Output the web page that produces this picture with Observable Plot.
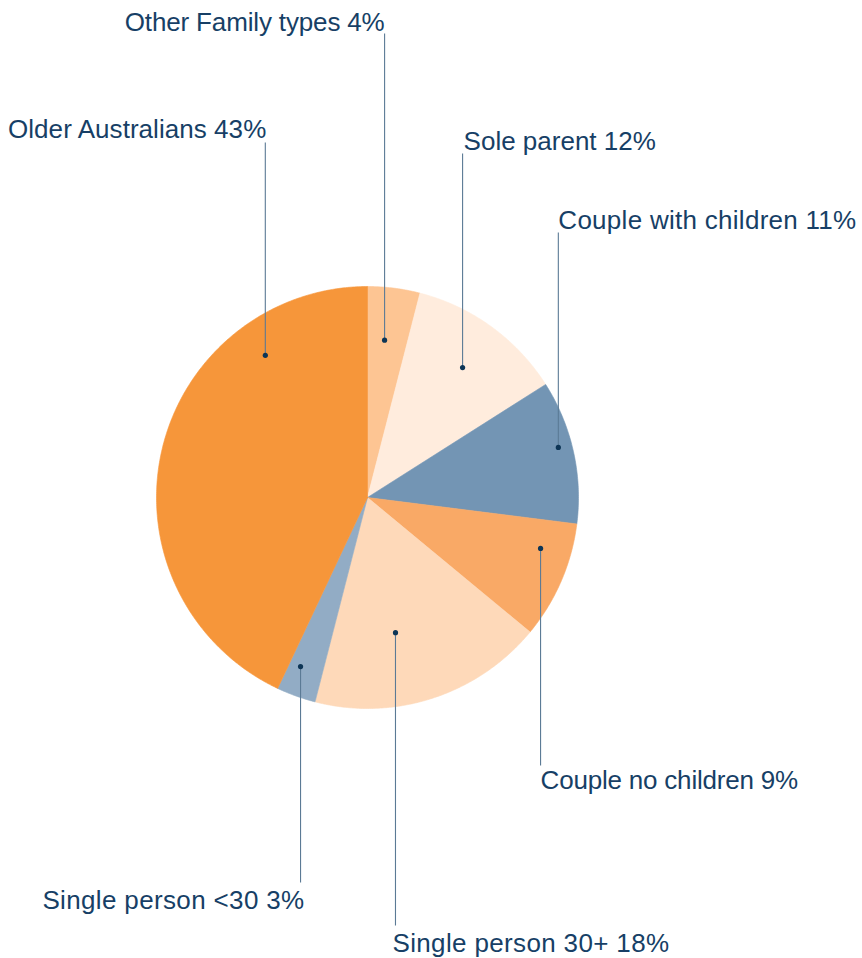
<!DOCTYPE html>
<html>
<head>
<meta charset="utf-8">
<script src="https://cdn.jsdelivr.net/npm/d3@7"></script>
<script src="https://cdn.jsdelivr.net/npm/@observablehq/plot@0.6"></script>
<style>
  html, body { margin: 0; padding: 0; background: #fff; }
  #chart { width: 862px; height: 958px; }
</style>
</head>
<body>
<div id="chart"></div>
<script>
// ---- data ----
const categories = ["Other Family types", "Sole parent", "Couple with children", "Couple no children", "Single person 30+", "Single person <30", "Older Australians"];
const shares = [4, 12, 11, 9, 18, 3, 43];
const labels = ["Other Family types 4%", "Sole parent 12%", "Couple with children 11%", "Couple no children 9%", "Single person 30+ 18%", "Single person <30 3%", "Older Australians 43%"];
const colors = ["#FDC593", "#FFECDD", "#7395B4", "#F9A966", "#FED9B9", "#92ACC5", "#F6963A"];

// ---- layout (not data) ----
const W = 862, H = 958, CX = 367, CY = 497, R = 211;
const anchorAngle = [6.2, 36.2, 75.3, 106.4, 168.3, 201.6, 324.3]; // degrees clockwise from top
const anchorRadius = [0.75, 0.763, 0.935, 0.855, 0.654, 0.862, 0.83];
const labelBaseline = [30, 149, 228, 788, 951, 908, 137];
const lineEnd = [33, 153, 232, 765, 925, 882, 142];
const labelAnchor = ["end", "start", "start", "start", "start", "end", "end"];
const labelDx = [0, 1, 0, 0, -3, 4, 1];
const letterSpacing = [-0.15, 0.0, 0.28, -0.2, 0.35, 0.35, 0.05];

// slices as polygons
const total = d3.sum(shares);
const slicePts = [];
let acc = 0;
categories.forEach((c, i) => {
  const a0 = acc / total * 360, a1 = (acc + shares[i]) / total * 360;
  acc += shares[i];
  slicePts.push({cat: c, x: 0, y: 0});
  const n = Math.max(2, Math.ceil((a1 - a0) / 0.5));
  for (let k = 0; k <= n; k++) {
    const t = (a0 + (a1 - a0) * k / n) * Math.PI / 180;
    slicePts.push({cat: c, x: R * Math.sin(t), y: -R * Math.cos(t)});
  }
  slicePts.push({cat: c, x: 0, y: 0});
});

const anchors = categories.map((c, i) => {
  const t = anchorAngle[i] * Math.PI / 180;
  const x = R * anchorRadius[i] * Math.sin(t);
  const y = -R * anchorRadius[i] * Math.cos(t);
  return {cat: c, i, label: labels[i], x, y, y2: lineEnd[i] - CY, ty: labelBaseline[i] - CY, tx: x + labelDx[i], anchor: labelAnchor[i]};
});

const chart = Plot.plot({
  width: W, height: H,
  margin: 0,
  x: {domain: [-CX, W - CX], range: [0, W], axis: null},
  y: {domain: [-CY, H - CY], range: [0, H], axis: null},
  color: {domain: categories, range: colors},
  style: {fontFamily: "'Liberation Sans', Arial, sans-serif", background: "#fff"},
  marks: [
    Plot.line(slicePts, {x: "x", y: "y", z: "cat", fill: "cat", stroke: "cat", strokeWidth: 0.6, curve: "linear-closed"}),
    Plot.link(anchors, {x1: "x", y1: "y", x2: "x", y2: "y2", stroke: "#5b7a95", strokeWidth: 1.1}),
    Plot.dot(anchors, {x: "x", y: "y", r: 2.6, fill: "#0d3556", stroke: null}),
    ...anchors.map(d => Plot.text([d], {
      x: "tx", y: "ty", text: "label", textAnchor: d.anchor, lineAnchor: "bottom",
      fontSize: 26, fill: "#173f66",
      render(index, scales, values, dims, context, next) {
        const g = next(index, scales, values, dims, context);
        g.setAttribute("letter-spacing", letterSpacing[d.i]);
        return g;
      }
    }))
  ]
});
document.getElementById("chart").appendChild(chart);
</script>
</body>
</html>
